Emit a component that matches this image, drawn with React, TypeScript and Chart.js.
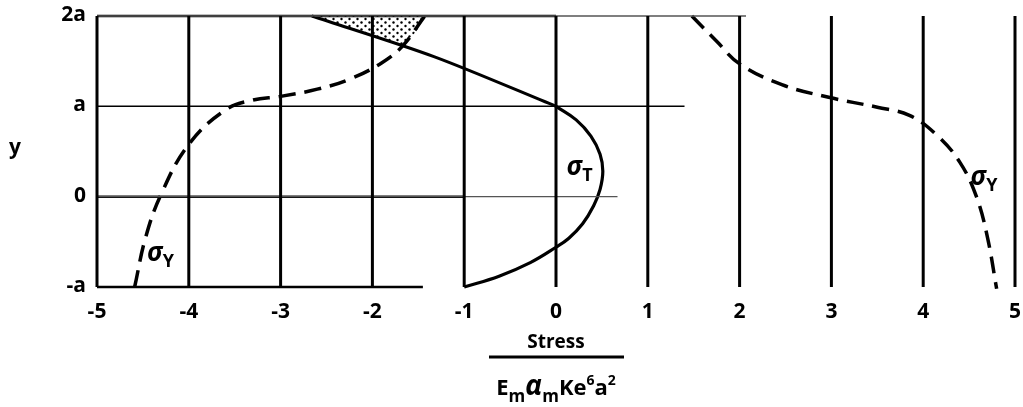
import React, { useEffect, useRef } from "react";
import { Chart, registerables } from "chart.js";

Chart.register(...registerables);

// ---- data ----
const xTicks = [-5, -4, -3, -2, -1, 0, 1, 2, 3, 4, 5];
const xTickLabels = ["-5", "-4", "-3", "-2", "-1", "0", "1", "2", "3", "4", "5"];
const yTicks = [2, 1, 0, -1];
const yTickLabels = ["2a", "a", "0", "-a"];

// horizontal reference lines: y level, heavy part end, light part end
const hLineY = [2, 1, 0, -1];
const hLineHeavyEnd = [0, 1.4, -1, -1.45];
const hLineLightEnd = [2.07, 1.4, 0.67, -1.45];

// sigma_T : upper nearly straight part and lower parabolic part
const sigmaTUpperX = [-2.66, -1.33, 0.0];
const sigmaTUpperY = [2.0, 1.55, 1.0];
const sigmaTLowerX = [0.0, 0.22, 0.38, 0.48, 0.51, 0.48, 0.41, 0.29, 0.14, 0.0, -0.28, -0.62, -1.0];
const sigmaTLowerY = [1.0, 0.85, 0.67, 0.47, 0.28, 0.08, -0.1, -0.3, -0.46, -0.56, -0.73, -0.88, -1.0];

// sigma_Y left (dashed)
const sigmaYLeftX = [-4.59, -4.47, -4.3, -4.0, -3.6, -3.3, -3.0, -2.6, -2.25, -1.9, -1.67, -1.43];
const sigmaYLeftY = [-1.0, -0.45, 0.03, 0.58, 0.96, 1.07, 1.11, 1.19, 1.3, 1.48, 1.67, 2.0];

// sigma_Y right (dashed)
const sigmaYRightX = [1.48, 1.75, 2.0, 2.46, 2.97, 3.5, 3.85, 4.15, 4.4, 4.58, 4.7, 4.8];
const sigmaYRightY = [2.0, 1.72, 1.47, 1.24, 1.1, 0.99, 0.9, 0.68, 0.38, 0.0, -0.45, -1.02];

// stippled region between sigma_T and sigma_Y near the top
const shadeX = [-2.66, -1.43, -1.52, -1.67, -2.0, -2.66];
const shadeY = [2.0, 2.0, 1.83, 1.67, 1.78, 2.0];

// curve labels (data coords)
const curveLabels = [
  { sub: "T", x: 0.2, y: 0.32 },
  { sub: "Y", x: -4.37, y: -0.63 },
  { sub: "Y", x: 4.6, y: 0.21 },
];
const yAxisTitle = "y";
const yAxisTitleValue = 0.54;
const xTitleTop = "Stress";

const pts = (xs: number[], ys: number[]) => xs.map((x, i) => ({ x, y: ys[i] }));

function makeDotPattern(): CanvasPattern | string {
  const c = document.createElement("canvas");
  c.width = 8;
  c.height = 7;
  const g = c.getContext("2d");
  if (!g) return "#000";
  g.fillStyle = "#000";
  g.beginPath();
  g.arc(1.5, 1.5, 1.2, 0, Math.PI * 2);
  g.fill();
  g.beginPath();
  g.arc(5.5, 5, 1.2, 0, Math.PI * 2);
  g.fill();
  const p = g.createPattern(c, "repeat");
  return p || "#000";
}

const MAIN_FONT = "'Open Sans', 'DejaVu Sans', sans-serif";
const GREEK_FONT = "'Noto Sans', 'DejaVu Sans', sans-serif";

const textPlugin = {
  id: "textPlugin",
  afterDraw(chart: any) {
    const ctx: CanvasRenderingContext2D = chart.ctx;
    const xs = chart.scales.x;
    const ys = chart.scales.y;
    const area = chart.chartArea;
    ctx.save();
    ctx.fillStyle = "#000";
    ctx.strokeStyle = "#000";

    // x tick labels
    ctx.font = `bold 21px ${MAIN_FONT}`;
    ctx.textAlign = "center";
    ctx.textBaseline = "middle";
    xTicks.forEach((v, i) => {
      ctx.fillText(xTickLabels[i], xs.getPixelForValue(v), area.bottom + 25);
    });

    // y tick labels
    ctx.textAlign = "right";
    yTicks.forEach((v, i) => {
      ctx.fillText(yTickLabels[i], area.left - 11, ys.getPixelForValue(v) - 1);
    });

    // y title
    ctx.textAlign = "center";
    ctx.fillText(yAxisTitle, 15, ys.getPixelForValue(yAxisTitleValue));

    // curve labels
    curveLabels.forEach((l) => {
      const px = xs.getPixelForValue(l.x);
      const py = ys.getPixelForValue(l.y);
      ctx.font = `italic bold 26px ${GREEK_FONT}`;
      ctx.textAlign = "center";
      ctx.textBaseline = "alphabetic";
      const w = ctx.measureText("σ").width;
      ctx.fillText("σ", px, py + 7);
      ctx.font = `bold 18px ${MAIN_FONT}`;
      ctx.textAlign = "left";
      ctx.fillText(l.sub, px + w / 2, py + 13);
    });

    // x title fraction
    const cx = xs.getPixelForValue(0);
    const top = area.bottom;
    ctx.font = `bold 19px ${MAIN_FONT}`;
    ctx.textAlign = "center";
    ctx.textBaseline = "alphabetic";
    ctx.fillText(xTitleTop, cx, top + 61);
    ctx.lineWidth = 3;
    ctx.beginPath();
    ctx.moveTo(cx - 67, top + 70);
    ctx.lineTo(cx + 68, top + 70);
    ctx.stroke();

    const parts: { t: string; f: string; dy: number }[] = [
      { t: "E", f: `bold 22px ${MAIN_FONT}`, dy: 0 },
      { t: "m", f: `bold 17px ${MAIN_FONT}`, dy: 7 },
      { t: "α", f: `italic bold 28px ${GREEK_FONT}`, dy: 0 },
      { t: "m", f: `bold 17px ${MAIN_FONT}`, dy: 7 },
      { t: "Ke", f: `bold 22px ${MAIN_FONT}`, dy: 0 },
      { t: "6", f: `bold 14px ${MAIN_FONT}`, dy: -10 },
      { t: "a", f: `bold 22px ${MAIN_FONT}`, dy: 0 },
      { t: "2", f: `bold 14px ${MAIN_FONT}`, dy: -10 },
    ];
    let total = 0;
    parts.forEach((p) => {
      ctx.font = p.f;
      total += ctx.measureText(p.t).width;
    });
    let x = cx - total / 2;
    ctx.textAlign = "left";
    parts.forEach((p) => {
      ctx.font = p.f;
      ctx.fillText(p.t, x, top + 108 + p.dy);
      x += ctx.measureText(p.t).width;
    });
    ctx.restore();
  },
};

export default function App() {
  const ref = useRef<HTMLCanvasElement | null>(null);
  useEffect(() => {
    if (!ref.current) return;
    const line = (data: any[], extra: any = {}) => ({
      data,
      showLine: true,
      pointRadius: 0,
      borderColor: "#000",
      borderWidth: 3,
      fill: false,
      tension: 0,
      clip: false,
      ...extra,
    });
    const datasets: any[] = [];
    // stipple
    datasets.push(
      line(pts(shadeX, shadeY), {
        fill: "shape",
        backgroundColor: makeDotPattern(),
        borderWidth: 0,
        borderColor: "rgba(0,0,0,0)",
      })
    );
    // vertical grid lines
    xTicks.forEach((v) => {
      datasets.push(line([{ x: v, y: -1 }, { x: v, y: 2 }], { borderWidth: 3 }));
    });
    // horizontal lines
    hLineY.forEach((y, i) => {
      if (hLineLightEnd[i] > hLineHeavyEnd[i]) {
        datasets.push(
          line([{ x: -5, y }, { x: hLineLightEnd[i], y }], { borderWidth: 1.3, borderColor: "#555" })
        );
      }
      datasets.push(line([{ x: -5, y }, { x: hLineHeavyEnd[i], y }], { borderWidth: y === 1 ? 1.5 : 2.5 }));
    });
    // curves
    datasets.push(line(pts(sigmaTUpperX, sigmaTUpperY), { borderWidth: 3, tension: 0.3 }));
    datasets.push(line(pts(sigmaTLowerX, sigmaTLowerY), { borderWidth: 3.2, tension: 0.4 }));
    datasets.push(
      line(pts(sigmaYLeftX, sigmaYLeftY), { borderWidth: 3.5, tension: 0.4, borderDash: [17, 9] })
    );
    datasets.push(
      line(pts(sigmaYRightX, sigmaYRightY), { borderWidth: 3.5, tension: 0.4, borderDash: [17, 9] })
    );

    const chart = new Chart(ref.current, {
      type: "scatter",
      data: { datasets },
      options: {
        animation: false,
        responsive: false,
        devicePixelRatio: 1,
        layout: { padding: { left: 97, right: 8, top: 16, bottom: 120 } },
        plugins: { legend: { display: false }, tooltip: { enabled: false } },
        scales: {
          x: { type: "linear", min: -5, max: 5, display: false },
          y: { type: "linear", min: -1, max: 2, display: false },
        },
      } as any,
      plugins: [textPlugin],
    });
    return () => chart.destroy();
  }, []);

  return (
    <div style={{ position: "absolute", left: 0, top: 0, width: 1023, height: 407, background: "#fff" }}>
      <canvas ref={ref} width={1023} height={407} style={{ width: 1023, height: 407, display: "block" }} />
    </div>
  );
}
